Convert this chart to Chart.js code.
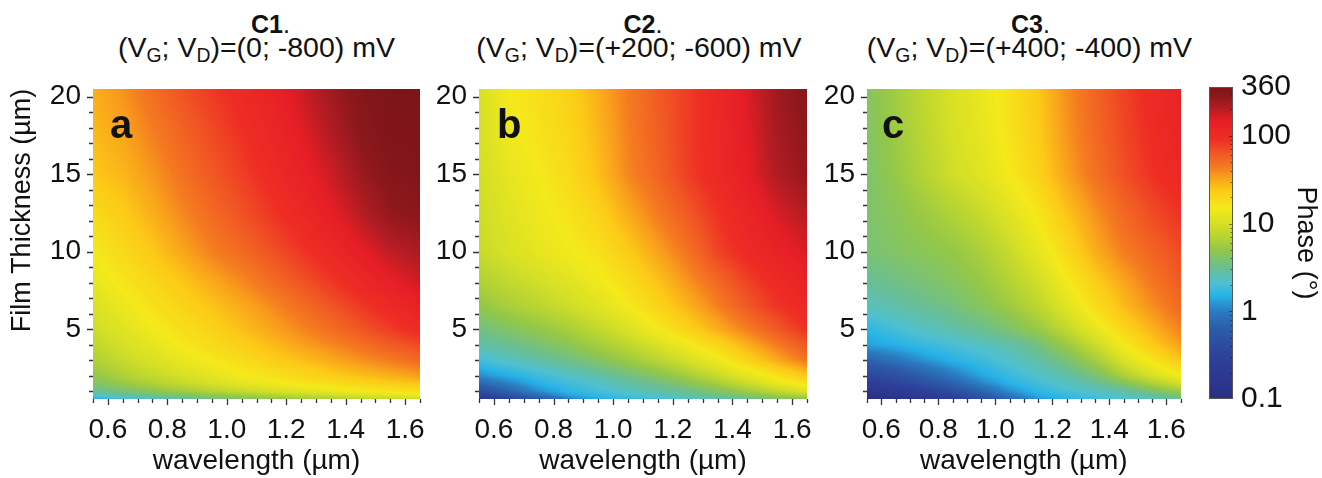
<!DOCTYPE html>
<html>
<head>
<meta charset="utf-8">
<title>Phase maps C1-C3</title>
<script src="https://cdn.jsdelivr.net/npm/chart.js@4.4.1/dist/chart.umd.min.js"></script>
<style>
  body { margin: 0; background: #fff; }
  #page { position: relative; width: 1322px; height: 478px; overflow: hidden;
          font-family: 'Liberation Sans', Arial, sans-serif; color: #111; }
  .box { position: absolute; top: 60px; height: 418px; }
  .ttl { position: absolute; top: 12px; text-align: center; font-size: 25px; line-height: 25px; white-space: nowrap; }
  .sub { position: absolute; top: 33px; text-align: center; font-size: 28.5px; line-height: 28px; white-space: nowrap; }
  .sub sub { font-size: 0.68em; vertical-align: -0.25em; line-height: 0; }
  .tag { position: absolute; top: 104px; font-weight: bold; font-size: 40px; line-height: 40px; }
</style>
</head>
<body>
<div id="page">
  <div class="ttl" style="left:107px;width:327px"><b>C1</b>.</div>
  <div class="sub" style="left:93px;width:327px">(V<sub>G</sub>; V<sub>D</sub>)=(0; -800) mV</div>
  <div class="ttl" style="left:479px;width:328px"><b>C2</b>.</div>
  <div class="sub" style="left:475px;width:328px">(V<sub>G</sub>; V<sub>D</sub>)=(+200; -600) mV</div>
  <div class="ttl" style="left:867px;width:327px"><b>C3</b>.</div>
  <div class="sub" style="left:866px;width:327px">(V<sub>G</sub>; V<sub>D</sub>)=(+400; -400) mV</div>

  <div class="box" style="left:0;width:440px"><canvas id="chartC1" width="440" height="418"></canvas></div>
  <div class="box" style="left:420px;width:420px"><canvas id="chartC2" width="420" height="418"></canvas></div>
  <div class="box" style="left:820px;width:380px"><canvas id="chartC3" width="380" height="418"></canvas></div>
  <div class="box" style="left:1200px;width:122px"><canvas id="chartBar" width="122" height="418"></canvas></div>

  <div class="tag" style="left:110px">a</div>
  <div class="tag" style="left:497px">b</div>
  <div class="tag" style="left:882px">c</div>
</div>
<script>
// grid: columns = wavelength (µm), rows = film thickness (µm)
const wavelength = [0.55, 0.65, 0.75, 0.85, 0.95, 1.05, 1.15, 1.25, 1.35, 1.45, 1.55, 1.65];
const thickness = [0.5, 0.75, 1, 1.5, 2, 3, 4, 5, 6.5, 8, 10, 12.5, 15, 17.5, 20.5];

// phase (degrees), one row per thickness, bottom row first
const phaseC1 = [
    [1.5, 1.9, 2.3, 2.8, 3.3, 4.0, 4.7, 5.4, 6.2, 7.0, 8.0, 9.0],
    [2.2, 2.8, 3.4, 4.1, 4.9, 5.9, 7.0, 8.1, 9.4, 10.8, 12, 13.5],
    [3.0, 3.8, 4.7, 5.7, 7.0, 8.5, 10, 11.5, 13, 14.5, 16, 17.5],
    [4.0, 5.2, 6.6, 8.2, 10, 12, 14, 16, 18, 20.5, 23, 25],
    [5.0, 6.5, 8.2, 10, 12, 14.5, 17, 19.5, 22.5, 26, 30, 34],
    [6.5, 8.5, 10.5, 13, 15.5, 18.5, 22, 26, 31, 37, 44, 52],
    [7.8, 10, 12.5, 15.5, 18.5, 22, 27, 33, 40, 49, 60, 72],
    [9.0, 11.5, 14.5, 17.5, 21, 26, 32, 40, 50, 63, 80, 100],
    [10.5, 13.5, 17, 20.5, 25, 31, 39, 50, 64, 82, 105, 135],
    [12.5, 16, 19.5, 24, 31, 39, 50, 64, 82, 108, 140, 175],
    [15, 19, 24, 32, 42, 52, 66, 84, 108, 145, 190, 220],
    [19, 23, 30, 40, 52, 66, 84, 108, 145, 200, 265, 290],
    [24, 28, 36, 48, 62, 78, 100, 130, 175, 245, 310, 330],
    [27, 32, 42, 55, 70, 88, 112, 150, 205, 285, 335, 345],
    [30, 37, 50, 66, 82, 102, 128, 175, 240, 310, 350, 350]
];
const phaseC2 = [
    [0.18, 0.3, 0.55, 1.0, 1.45, 1.7, 1.9, 2.2, 2.6, 3.1, 3.8, 4.5],
    [0.28, 0.48, 0.85, 1.35, 1.7, 2.0, 2.3, 2.8, 3.4, 4.3, 5.8, 7.5],
    [0.42, 0.7, 1.15, 1.6, 1.9, 2.3, 2.7, 3.3, 4.2, 5.6, 8, 11],
    [0.75, 1.05, 1.5, 1.85, 2.2, 2.8, 3.4, 4.4, 6, 8.8, 13, 17],
    [1.15, 1.45, 1.8, 2.2, 2.7, 3.4, 4.4, 6, 8.5, 12, 17, 24],
    [1.9, 2.3, 2.8, 3.4, 4.3, 5.5, 7.3, 10, 14, 21, 31, 46],
    [2.7, 3.2, 3.8, 4.7, 6, 7.8, 10.5, 14.5, 20, 30, 44, 64],
    [3.5, 4.2, 5, 6.2, 8, 10.5, 15, 21, 30, 43, 62, 88],
    [5, 6.2, 7.5, 9.2, 11.5, 15, 20.5, 29, 42, 62, 85, 110],
    [6.5, 8, 9.5, 11.5, 14, 18, 25, 36, 52, 75, 100, 130],
    [8.5, 10.5, 12.5, 14.5, 17, 23, 33, 47, 75, 100, 130, 165],
    [9, 11.5, 14, 16.5, 21, 31, 44, 62, 87, 120, 165, 205],
    [9.5, 12.5, 15, 18.5, 26, 40, 55, 78, 105, 145, 210, 260],
    [10, 14, 16.5, 20, 28, 42, 58, 80, 107, 152, 225, 280],
    [10, 15, 17.5, 21, 30, 44, 60, 80, 108, 160, 240, 300]
];
const phaseC3 = [
    [0.1, 0.12, 0.16, 0.24, 0.4, 0.75, 1.2, 1.6, 1.85, 2.1, 2.5, 3.0],
    [0.13, 0.16, 0.22, 0.33, 0.55, 0.95, 1.45, 1.8, 2.05, 2.4, 3.0, 4.2],
    [0.16, 0.2, 0.28, 0.44, 0.7, 1.15, 1.6, 1.95, 2.25, 2.8, 3.8, 5.5],
    [0.25, 0.32, 0.45, 0.68, 1.05, 1.5, 1.9, 2.3, 2.9, 4.2, 6.5, 9.5],
    [0.35, 0.46, 0.65, 0.95, 1.35, 1.75, 2.15, 2.7, 3.8, 6.3, 10, 15],
    [0.7, 0.9, 1.2, 1.5, 1.8, 2.2, 2.8, 3.8, 5.8, 10.5, 16.5, 24],
    [1.3, 1.5, 1.75, 2.0, 2.3, 2.7, 3.6, 5.4, 8.8, 15, 23, 34],
    [1.6, 1.95, 2.3, 2.7, 3.2, 4.0, 5.3, 8.0, 12.5, 20, 29, 42],
    [2.4, 2.7, 3.1, 3.6, 4.4, 5.6, 7.6, 11.5, 18, 27, 38, 52],
    [3.0, 3.4, 3.8, 4.3, 5.2, 6.8, 9.5, 14.5, 22, 32, 45, 60],
    [3.8, 4.2, 4.6, 5.1, 6.3, 8.5, 12.5, 19, 30, 43, 55, 70],
    [4.0, 4.6, 5.5, 6.8, 8.5, 11.5, 16, 25, 37, 53, 70, 88],
    [4.0, 5.2, 7.0, 9.3, 11.5, 15, 21, 33, 48, 67, 88, 110],
    [4.2, 5.5, 7.5, 10, 12.5, 16.5, 23, 36, 52, 72, 95, 120],
    [4.3, 5.8, 8, 10.5, 13, 17, 24, 38, 55, 76, 100, 130]
];

// tick labels
const wavelengthTicks = [0.6, 0.8, 1.0, 1.2, 1.4, 1.6];
const thicknessTicks = [5, 10, 15, 20];
const phaseTicks = [0.1, 1, 10, 100, 360];

// colour scale (phase in degrees -> colour), log spaced
const cmapPhase = [0.1, 0.3, 0.63, 1, 1.5, 2.1, 3.3, 5, 7, 10, 15, 24, 33, 44, 65, 90, 150, 210, 280, 360];
const cmapColors = ['#2b2f84', '#2d409a', '#2c5caa', '#2a7bc0', '#27b2e8', '#4fc0d0', '#6dbf8b', '#92c74a',
    '#b5d334', '#d6e026', '#f4e91b', '#fcc917', '#f9a31b', '#f47a20', '#f05424', '#ee2e24', '#e51e26',
    '#b01c22', '#8c181c', '#7b1416'];

const LOG_MIN = Math.log10(0.1), LOG_MAX = Math.log10(360);
const lut = buildLut(600);

function hexRgb(h) {
    return [parseInt(h.substr(1, 2), 16), parseInt(h.substr(3, 2), 16), parseInt(h.substr(5, 2), 16)];
}

function buildLut(n) {
    const stops = cmapPhase.map(Math.log10);
    const cols = cmapColors.map(hexRgb);
    const out = [];
    for (let k = 0; k < n; k++) {
        const lv = LOG_MIN + (LOG_MAX - LOG_MIN) * k / (n - 1);
        let s = 0;
        while (s < stops.length - 2 && lv > stops[s + 1]) s++;
        const t = Math.min(1, Math.max(0, (lv - stops[s]) / (stops[s + 1] - stops[s])));
        out.push(cols[s].map((c, i) => Math.round(c + (cols[s + 1][i] - c) * t)));
    }
    return out;
}

function colorForLog(lv) {
    let k = Math.round((lv - LOG_MIN) / (LOG_MAX - LOG_MIN) * (lut.length - 1));
    k = Math.max(0, Math.min(lut.length - 1, k));
    return lut[k];
}

// index of the grid interval holding v, and position inside it
function locate(arr, v) {
    let i = 0;
    while (i < arr.length - 2 && v > arr[i + 1]) i++;
    const t = Math.min(1, Math.max(0, (v - arr[i]) / (arr[i + 1] - arr[i])));
    return [i, t];
}

// paints the phase map inside the chart area, pixel -> value through the chart's scales
const phaseMap = {
    id: 'phaseMap',
    beforeDatasetsDraw(chart, args, opts) {
        if (!opts.z) return;
        const { ctx, chartArea: a, scales: { x, y } } = chart;
        const left = Math.round(a.left), top = Math.round(a.top);
        const w = Math.round(a.right) - left, h = Math.round(a.bottom) - top;
        const lz = opts.z.map(r => r.map(v => Math.log10(v)));
        const cols = [], rows = [];
        for (let px = 0; px < w; px++) cols.push(locate(wavelength, x.getValueForPixel(left + px + 0.5)));
        for (let py = 0; py < h; py++) rows.push(locate(thickness, y.getValueForPixel(top + py + 0.5)));
        const img = ctx.createImageData(w, h);
        for (let py = 0; py < h; py++) {
            const [j, ty] = rows[py];
            for (let px = 0; px < w; px++) {
                const [i, tx] = cols[px];
                const lo = lz[j][i] + (lz[j][i + 1] - lz[j][i]) * tx;
                const hi = lz[j + 1][i] + (lz[j + 1][i + 1] - lz[j + 1][i]) * tx;
                const c = colorForLog(lo + (hi - lo) * ty);
                const o = (py * w + px) * 4;
                img.data[o] = c[0]; img.data[o + 1] = c[1]; img.data[o + 2] = c[2]; img.data[o + 3] = 255;
            }
        }
        ctx.putImageData(img, left, top);
    }
};

// outward tick marks, long at labelled values, short in between
const tickMarks = {
    id: 'tickMarks',
    afterDraw(chart, args, opts) {
        if (!opts.enabled) return;
        const { ctx, chartArea: a, scales: { x, y } } = chart;
        ctx.save();
        ctx.strokeStyle = '#333';
        ctx.lineWidth = 1.3;
        ctx.beginPath();
        for (let k = 0; k <= 22; k++) {
            const v = +(0.55 + k * 0.05).toFixed(2);
            const major = wavelengthTicks.some(t => Math.abs(t - v) < 1e-6);
            const px = Math.round(x.getPixelForValue(v)) + 0.5;
            ctx.moveTo(px, a.bottom);
            ctx.lineTo(px, a.bottom + (major ? 6 : 4));
        }
        for (let v = 1; v <= 20; v++) {
            const major = thicknessTicks.includes(v);
            const py = Math.round(y.getPixelForValue(v)) + 0.5;
            ctx.moveTo(a.left, py);
            ctx.lineTo(a.left - (major ? 6 : 4), py);
        }
        ctx.stroke();
        ctx.restore();
    }
};

// colour bar strip drawn row by row from its log scale
const colorStrip = {
    id: 'colorStrip',
    beforeDatasetsDraw(chart, args, opts) {
        if (!opts.enabled) return;
        const { ctx, chartArea: a, scales: { y } } = chart;
        for (let py = Math.round(a.top); py < Math.round(a.bottom); py++) {
            const c = colorForLog(Math.log10(y.getValueForPixel(py + 0.5)));
            ctx.fillStyle = `rgb(${c[0]},${c[1]},${c[2]})`;
            ctx.fillRect(a.left, py, a.right - a.left, 1);
        }
        ctx.save();
        ctx.strokeStyle = 'rgba(0,0,0,0.45)';
        ctx.lineWidth = 1;
        ctx.beginPath();
        for (let d = -1; d <= 2; d++) {
            for (let m = 1; m <= 9; m++) {
                const v = m * Math.pow(10, d);
                if (v <= 0.1 || v >= 360) continue;
                const py = Math.round(y.getPixelForValue(v)) + 0.5;
                ctx.moveTo(a.right, py);
                ctx.lineTo(a.right - (m === 1 ? 4 : 2.5), py);
            }
        }
        ctx.stroke();
        ctx.strokeStyle = '#555';
        ctx.strokeRect(Math.round(a.left) + 0.5, Math.round(a.top) + 0.5,
            Math.round(a.right - a.left) - 1, Math.round(a.bottom - a.top) - 1);
        ctx.restore();
    }
};

Chart.defaults.font.family = "'Liberation Sans', Arial, Helvetica, sans-serif";
Chart.defaults.color = '#111';

function gridPoints(z) {
    const pts = [];
    thickness.forEach((d, j) => wavelength.forEach((l, i) => pts.push({ x: l, y: d, v: z[j][i] })));
    return pts;
}

function makePanel(id, z, yWidth, rightPad, withTitle) {
    return new Chart(document.getElementById(id), {
        type: 'scatter',
        data: { datasets: [{ data: gridPoints(z), pointRadius: 0, pointHoverRadius: 0 }] },
        options: {
            responsive: false,
            animation: false,
            devicePixelRatio: 1,
            events: [],
            layout: { padding: { left: 0, top: 27, right: rightPad, bottom: 0 } },
            plugins: {
                legend: { display: false },
                tooltip: { enabled: false },
                phaseMap: { z: z },
                tickMarks: { enabled: true },
                colorStrip: { enabled: false }
            },
            scales: {
                x: {
                    type: 'linear', min: 0.55, max: 1.65,
                    afterBuildTicks: s => { s.ticks = wavelengthTicks.map(v => ({ value: v })); },
                    afterFit: s => { s.height = 79; },
                    ticks: { font: { size: 28 }, padding: 14, maxRotation: 0, autoSkip: false, callback: v => v.toFixed(1) },
                    grid: { display: false, drawTicks: false },
                    border: { display: false },
                    title: { display: true, text: 'wavelength (µm)', font: { size: 28 }, padding: { top: 0, bottom: 0 } }
                },
                y: {
                    type: 'linear', min: 0.5, max: 20.5,
                    afterBuildTicks: s => { s.ticks = thicknessTicks.map(v => ({ value: v })); },
                    afterFit: s => { s.width = yWidth; },
                    ticks: { font: { size: 28 }, padding: 12, autoSkip: false, callback: v => String(v) },
                    grid: { display: false, drawTicks: false },
                    border: { display: false },
                    title: { display: withTitle, text: 'Film Thickness (µm)', align: 'end', font: { size: 27 }, padding: { top: 6, bottom: 0 } }
                }
            }
        },
        plugins: [phaseMap, tickMarks]
    });
}

makePanel('chartC1', phaseC1, 93, 20, true);
makePanel('chartC2', phaseC2, 59, 33, false);
makePanel('chartC3', phaseC3, 47, 6, false);

new Chart(document.getElementById('chartBar'), {
    type: 'scatter',
    data: { datasets: [{ data: phaseTicks.map(v => ({ x: 0.5, y: v })), pointRadius: 0, pointHoverRadius: 0 }] },
    options: {
        responsive: false,
        animation: false,
        devicePixelRatio: 1,
        events: [],
        layout: { padding: { left: 9, top: 27, right: 0, bottom: 79 } },
        plugins: {
            legend: { display: false },
            tooltip: { enabled: false },
            colorStrip: { enabled: true }
        },
        scales: {
            x: { display: false, min: 0, max: 1 },
            y: {
                type: 'logarithmic', position: 'right', min: 0.1, max: 360,
                afterBuildTicks: s => { s.ticks = phaseTicks.map(v => ({ value: v })); },
                afterFit: s => { s.width = 89; },
                ticks: { font: { size: 30 }, padding: 8, autoSkip: false, callback: v => String(v) },
                grid: { display: false, drawTicks: false },
                border: { display: false },
                title: { display: true, text: 'Phase (°)', font: { size: 27 }, padding: { top: 0, bottom: 0 } }
            }
        }
    },
    plugins: [colorStrip]
});
</script>
</body>
</html>
